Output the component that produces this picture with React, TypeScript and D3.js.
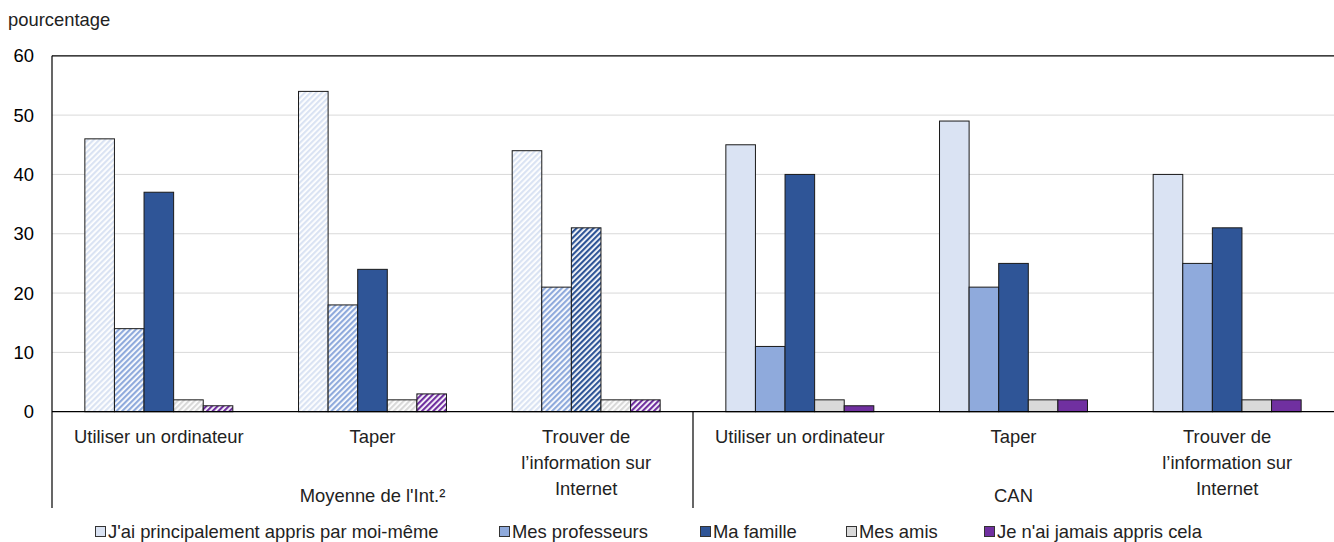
import React from "react";
import * as d3 from "d3";

const categories: string[][] = [
  ["Utiliser un ordinateur"],
  ["Taper"],
  ["Trouver de", "l\u2019information sur", "Internet"],
];
const groups = ["Moyenne de l'Int.\u00b2", "CAN"];
const series = [
  "J'ai principalement appris par moi-même",
  "Mes professeurs",
  "Ma famille",
  "Mes amis",
  "Je n'ai jamais appris cela",
];
const colors = ["#dae3f3", "#8faadc", "#2f5597", "#d9d9d9", "#7030a0"];
// values per group -> category -> series
const valuesInt = [
  [46, 14, 37, 2, 1],
  [54, 18, 24, 2, 3],
  [44, 21, 31, 2, 2],
];
const valuesCan = [
  [45, 11, 40, 2, 1],
  [49, 21, 25, 2, 2],
  [40, 25, 31, 2, 2],
];
// hatched (1) bars
const hatchInt = [
  [1, 1, 0, 1, 1],
  [1, 1, 0, 1, 1],
  [1, 1, 1, 1, 1],
];
const hatchCan = [
  [0, 0, 0, 0, 0],
  [0, 0, 0, 0, 0],
  [0, 0, 0, 0, 0],
];
const yTicks = [0, 10, 20, 30, 40, 50, 60];
const legendX = [95, 499, 700, 846, 984];

const W = 1334;
const H = 542;
const FONT = "'Liberation Sans', Arial, sans-serif";
const FS = 18.4;

export default function App() {
  const left = 52;
  const right = 1334;
  const y = d3.scaleLinear().domain([0, 60]).range([411.7, 55.8]);
  const slots = groups.flatMap((g, gi) => categories.map((c, ci) => `${gi}-${ci}`));
  const x0 = d3.scaleBand<string>().domain(slots).range([left, right]).padding(0);
  const x1 = d3
    .scaleBand<number>()
    .domain(d3.range(series.length))
    .range([0, x0.bandwidth()])
    .paddingInner(0)
    .paddingOuter(1.11);
  const groupData = [
    { vals: valuesInt, hatch: hatchInt },
    { vals: valuesCan, hatch: hatchCan },
  ];
  const groupWidth = x0.bandwidth() * categories.length;
  const baseY = y(0);
  const axisBottom = 508;

  return (
    <svg
      width={W}
      height={H}
      style={{ position: "absolute", left: 0, top: 0, background: "#fff" }}
      fontFamily={FONT}
    >
      <defs>
        {colors.map((c, i) => (
          <pattern
            key={i}
            id={`hatch${i}`}
            patternUnits="userSpaceOnUse"
            width={4}
            height={4}
            patternTransform="rotate(45)"
          >
            <rect width={4} height={4} fill="#fff" />
            <rect width={2.2} height={4} fill={c} />
          </pattern>
        ))}
      </defs>
      <text x={8} y={26} fontSize={FS} fill="#222">
        pourcentage
      </text>
      {/* gridlines */}
      {yTicks
        .filter((t) => t > 0 && t < 60)
        .map((t) => (
          <line key={t} x1={left} x2={right} y1={y(t)} y2={y(t)} stroke="#d9d9d9" strokeWidth={1} />
        ))}
      <line x1={left} x2={right} y1={y(60)} y2={y(60)} stroke="#000" strokeWidth={1.3} />
      {/* y tick labels */}
      {yTicks.map((t) => (
        <text key={t} x={34} y={y(t)} dy="0.35em" textAnchor="end" fontSize={FS} fill="#000">
          {t}
        </text>
      ))}
      {/* bars */}
      {groupData.map((g, gi) =>
        g.vals.map((row, ci) =>
          row.map((v, si) => {
            const bx = (x0(`${gi}-${ci}`) as number) + (x1(si) as number);
            return (
              <rect
                key={`${gi}-${ci}-${si}`}
                x={bx}
                y={y(v)}
                width={x1.bandwidth()}
                height={baseY - y(v)}
                fill={g.hatch[ci][si] ? `url(#hatch${si})` : colors[si]}
                stroke="#1a1a1a"
                strokeWidth={1}
              />
            );
          })
        )
      )}
      {/* axes */}
      <line x1={left} x2={right} y1={baseY} y2={baseY} stroke="#000" strokeWidth={1.2} />
      <line x1={left} x2={left} y1={y(60)} y2={axisBottom} stroke="#000" strokeWidth={1.2} />
      <line
        x1={left + groupWidth}
        x2={left + groupWidth}
        y1={baseY}
        y2={axisBottom}
        stroke="#000"
        strokeWidth={1.2}
      />
      {/* category labels */}
      {groups.map((g, gi) =>
        categories.map((lines, ci) => {
          const cx = (x0(`${gi}-${ci}`) as number) + x0.bandwidth() / 2;
          return (
            <text key={`${gi}-${ci}`} textAnchor="middle" fontSize={FS} fill="#222">
              {lines.map((l, li) => (
                <tspan key={li} x={cx} y={443 + li * 26}>
                  {l}
                </tspan>
              ))}
            </text>
          );
        })
      )}
      {/* group labels */}
      {groups.map((g, gi) => (
        <text
          key={g}
          x={left + groupWidth * gi + groupWidth / 2}
          y={502}
          textAnchor="middle"
          fontSize={FS}
          fill="#222"
        >
          {g}
        </text>
      ))}
      {/* legend */}
      {series.map((s, i) => (
        <g key={s} transform={`translate(${legendX[i]},526)`}>
          <rect x={0.5} y={0.5} width={10} height={10} fill={colors[i]} stroke="#333" strokeWidth={1} />
          <text x={13} y={11.5} fontSize={FS} fill="#222">
            {s}
          </text>
        </g>
      ))}
    </svg>
  );
}
